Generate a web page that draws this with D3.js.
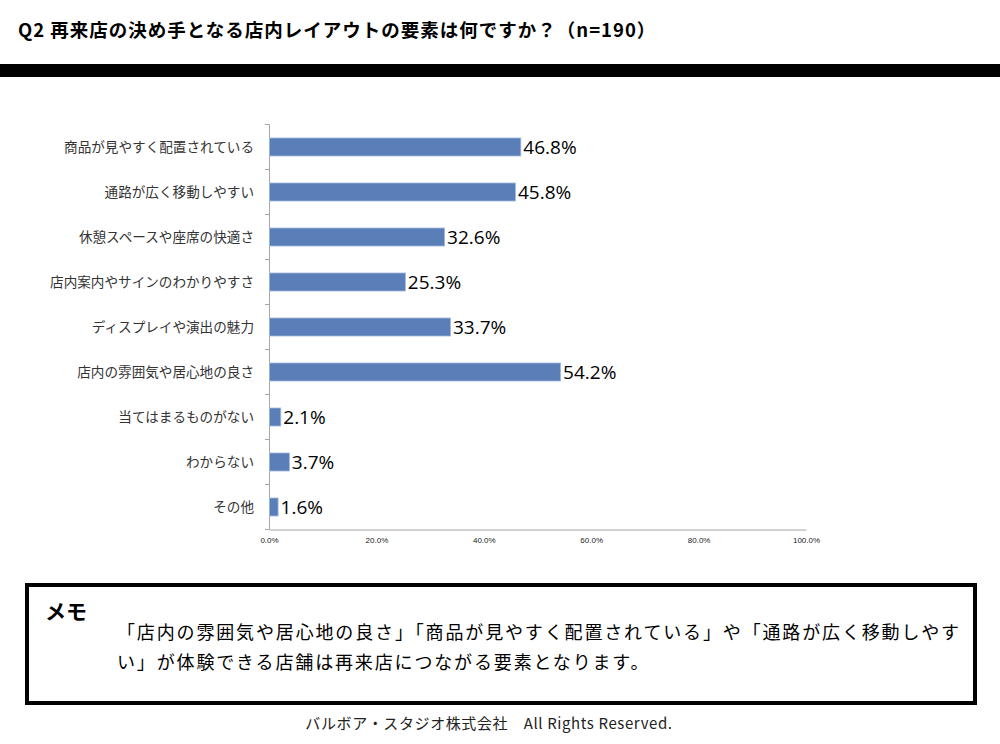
<!DOCTYPE html>
<html><head><meta charset="utf-8">
<script src="https://cdn.jsdelivr.net/npm/d3@7"></script>
<style>
html,body{margin:0;padding:0;background:#fff;}
svg{display:block;}
</style></head>
<body>
<svg id="c" width="1000" height="744"></svg>
<script>
const categories = ["商品が見やすく配置されている","通路が広く移動しやすい","休憩スペースや座席の快適さ","店内案内やサインのわかりやすさ","ディスプレイや演出の魅力","店内の雰囲気や居心地の良さ","当てはまるものがない","わからない","その他"];
const values = [46.8,45.8,32.6,25.3,33.7,54.2,2.1,3.7,1.6];
const xTicks = [0,20,40,60,80,100];
const titleText = "Q2 再来店の決め手となる店内レイアウトの要素は何ですか？（n=190）";
const memoLines = ["「店内の雰囲気や居心地の良さ」「商品が見やすく配置されている」や「通路が広く移動しやす","い」が体験できる店舗は再来店につながる要素となります。"];
const footerText = "バルボア・スタジオ株式会社　All Rights Reserved.";

const svg = d3.select("#c");
const jp = "'Noto Sans CJK JP', sans-serif";

svg.append("text").attr("x",18).attr("y",37).attr("font-family",jp).attr("font-weight","bold")
  .attr("font-size",18.5).attr("letter-spacing",1).attr("fill","#000").text(titleText);
svg.append("rect").attr("x",0).attr("y",64).attr("width",1000).attr("height",13).attr("fill","#000");

const x = d3.scaleLinear().domain([0,100]).range([269,806]);
const y = d3.scaleBand().domain(categories).range([124.5,529.5]).paddingInner(0.6).paddingOuter(0.3);

// x axis
const xa = svg.append("g").attr("transform","translate(0,529.5)")
  .call(d3.axisBottom(x).tickValues(xTicks).tickSize(0).tickPadding(8).tickFormat(d=>d.toFixed(1)+"%"));
xa.select(".domain").attr("stroke","#a6a6a6").attr("stroke-width",1);
xa.selectAll("text").attr("font-family","'Liberation Sans', sans-serif").attr("font-size",8).attr("fill","#222");

// y axis line & ticks at band boundaries
const bounds = categories.map((c,i)=>124.5 + i*45).concat([529.5]);
svg.append("line").attr("x1",269.5).attr("x2",269.5).attr("y1",124.5).attr("y2",529.5).attr("stroke","#a6a6a6");
svg.selectAll(".yt").data(bounds).enter().append("line")
  .attr("x1",265).attr("x2",269.5).attr("y1",d=>d).attr("y2",d=>d).attr("stroke","#a6a6a6");

// labels
svg.selectAll(".lab").data(categories).enter().append("text")
  .attr("x",254).attr("y",d=>y(d)+y.bandwidth()/2).attr("dy","0.35em")
  .attr("text-anchor","end").attr("font-family",jp).attr("font-size",13.6).attr("fill","#333").text(d=>d);

// bars
svg.selectAll(".bar").data(values).enter().append("rect")
  .attr("x",x(0)+0.5).attr("y",(d,i)=>y(categories[i]))
  .attr("width",d=>x(d)-x(0)).attr("height",y.bandwidth())
  .attr("fill","#5a7fb8").attr("stroke","#9fb7dc").attr("stroke-width",0.8);

// value labels
svg.selectAll(".val").data(values).enter().append("text")
  .attr("x",d=>x(d)+3).attr("y",(d,i)=>y(categories[i])+y.bandwidth()/2).attr("dy","0.36em")
  .attr("font-family","'Open Sans', 'Liberation Sans', sans-serif").attr("font-size",19).attr("fill","#000")
  .text(d=>d.toFixed(1)+"%");

// memo box
svg.append("rect").attr("x",27).attr("y",585).attr("width",948).attr("height",118)
  .attr("fill","none").attr("stroke","#000").attr("stroke-width",4);
svg.append("text").attr("x",45).attr("y",619).attr("font-family",jp).attr("font-weight","bold")
  .attr("font-size",21).attr("fill","#000").text("メモ");
svg.selectAll(".memo").data(memoLines).enter().append("text")
  .attr("x",117).attr("y",(d,i)=>639+i*30).attr("font-family",jp).attr("font-size",18)
  .attr("letter-spacing",1.85).attr("fill","#000").text(d=>d);

svg.append("text").attr("x",489).attr("y",729).attr("text-anchor","middle").attr("font-family",jp)
  .attr("font-size",15).attr("letter-spacing",0.6).attr("fill","#222").text(footerText);
</script>
</body></html>
